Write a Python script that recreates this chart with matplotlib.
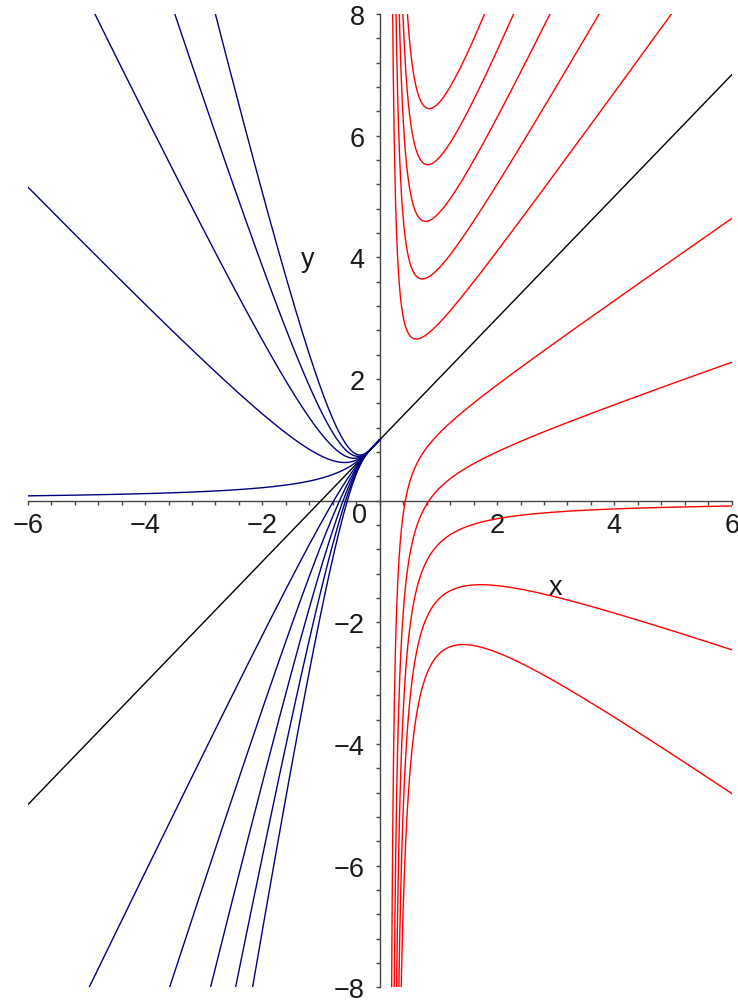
import numpy as np
import matplotlib
matplotlib.use('Agg')
import matplotlib.pyplot as plt
from matplotlib.ticker import MultipleLocator, FixedLocator, FixedFormatter

plt.rcParams['font.family'] = ['Liberation Sans', 'DejaVu Sans']

# Family of solution curves  y = x + 1 + C * x * exp(1/x)
C_left = [-5, -4, -3, -2, -1, 1, 2, 3, 4, 5]            # blue curves, x < 0
C_right = [-5/3, -4/3, -1, -2/3, -1/3, 1/3, 2/3, 1, 4/3, 5/3]  # red curves, x > 0
C_line = 0                                               # black line y = x + 1

x_ticks = [-6, -4, -2, 2, 4, 6]
x_ticklabels = ['\u22126', '\u22124', '\u22122', '2', '4', '6']
y_ticks = [-8, -6, -4, -2, 2, 4, 6, 8]
y_ticklabels = ['\u22128', '\u22126', '\u22124', '\u22122', '2', '4', '6', '8']


def family(x, C):
    with np.errstate(over='ignore', invalid='ignore'):
        return x + 1 + C * x * np.exp(1.0 / x)


W, H = 738, 1003
fig = plt.figure(figsize=(W / 100, H / 100), dpi=100)
ax = fig.add_axes([27.7 / W, 1 - 988.3 / H, 704 / W, 973.3 / H])
ax.set_xlim(-6, 6)
ax.set_ylim(-8, 8)

xl = np.linspace(-6, -1e-3, 3000)
xr = np.linspace(0.08, 6, 3000)
xa = np.linspace(-6, 6, 200)

ax.plot(xa, family(xa, C_line), color='black', lw=1.0, zorder=2)
for C in C_left:
    ax.plot(xl, family(xl, C), color='#000080', lw=1.0, zorder=3)
for C in C_right:
    y = np.clip(family(xr, C), -50, 50)
    ax.plot(xr, y, color='#ff0000', lw=1.0, zorder=3)

for s in ['top', 'right']:
    ax.spines[s].set_visible(False)
ax.spines['left'].set_position(('data', 0))
ax.spines['bottom'].set_position(('data', 0))
for s in ['left', 'bottom']:
    ax.spines[s].set_color('#444444')
    ax.spines[s].set_linewidth(1.0)
    ax.spines[s].set_zorder(1)

ax.xaxis.set_major_locator(FixedLocator(x_ticks))
ax.xaxis.set_major_formatter(FixedFormatter(x_ticklabels))
ax.yaxis.set_major_locator(FixedLocator(y_ticks))
ax.yaxis.set_major_formatter(FixedFormatter(y_ticklabels))
ax.xaxis.set_minor_locator(MultipleLocator(0.4))
ax.yaxis.set_minor_locator(MultipleLocator(0.4))
ax.tick_params(which='both', direction='out', color='#444444', width=1.0,
               labelsize=19.5, labelcolor='#1a1a1a')
ax.tick_params(which='major', length=3.0)
ax.tick_params(which='minor', length=2.8)
ax.tick_params(axis='x', pad=5)
ax.tick_params(axis='y', pad=8)
ax.patch.set_alpha(0)

ax.text(-0.35, -0.23, '0', fontsize=19.5, color='#1a1a1a', ha='center', va='center')
ax.text(2.99, -1.42, 'x', fontsize=19.5, color='#1a1a1a', ha='center', va='center')
ax.text(-1.22, 3.97, 'y', fontsize=19.5, color='#1a1a1a', ha='center', va='center')

fig.savefig('out.png', dpi=100)
